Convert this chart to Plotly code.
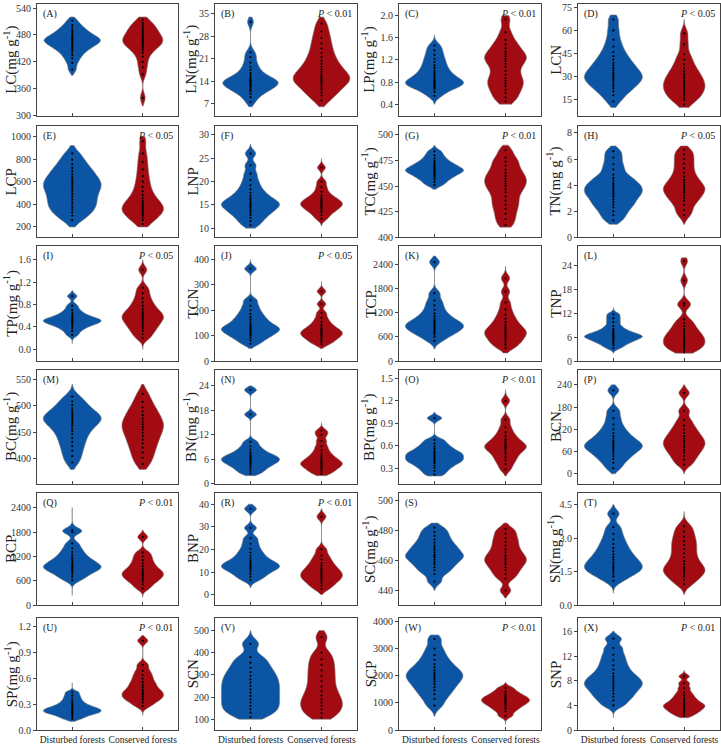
import plotly.graph_objects as go

# ---------------- data ----------------
categories = ["Disturbed forests", "Conserved forests"]
variables = ["LC", "LN", "LP", "LCN", "LCP", "LNP", "TC", "TN", "TP", "TCN", "TCP", "TNP",
             "BC", "BN", "BP", "BCN", "BCP", "BNP", "SC", "SN", "SP", "SCN", "SCP", "SNP"]
letters = ["A", "B", "C", "D", "E", "F", "G", "H", "I", "J", "K", "L",
           "M", "N", "O", "P", "Q", "R", "S", "T", "U", "V", "W", "X"]
with_unit = ["LC", "LN", "LP", "TC", "TN", "TP", "BC", "BN", "BP", "SC", "SN", "SP"]
p_values = [None, "0.01", "0.01", "0.05", "0.05", None, "0.01", "0.05", "0.05", "0.05", None, None,
            None, None, "0.01", None, "0.01", "0.01", None, None, "0.01", None, "0.01", "0.01"]

LC_dist = [403, 418, 428, 435, 441, 446, 450, 453, 456, 459, 462, 464, 466, 468, 470, 472, 474, 477, 480, 483, 487, 491, 496, 502, 512]
LC_cons = [340, 392, 408, 420, 432, 440, 446, 451, 455, 458, 461, 464, 466, 469, 472, 475, 478, 481, 485, 489, 493, 497, 502, 507, 514]
LN_dist = [7.5, 9, 10, 10.8, 11.2, 11.5, 12, 12.5, 12.8, 13, 13.3, 13.7, 14, 14.2, 14.4, 14.8, 15.3, 15.9, 16.6, 17.5, 18.5, 19.8, 21.5, 23, 32.5]
LN_cons = [8, 9.5, 10.5, 11.5, 12.3, 13, 13.6, 14.2, 14.7, 15.2, 15.7, 16.3, 17, 17.7, 18.5, 19.4, 20.4, 21.5, 22.8, 24.2, 25.8, 27.5, 29.5, 32]
LP_dist = [0.55, 0.62, 0.67, 0.7, 0.73, 0.75, 0.77, 0.79, 0.81, 0.83, 0.86, 0.89, 0.92, 0.96, 1.0, 1.05, 1.1, 1.16, 1.22, 1.29, 1.37, 1.46]
LP_cons = [0.45, 0.52, 0.6, 0.66, 0.72, 0.77, 0.82, 0.87, 0.93, 1.0, 1.07, 1.13, 1.18, 1.22, 1.26, 1.3, 1.35, 1.41, 1.48, 1.56, 1.7, 1.93]
LCN_dist = [14, 18, 20.5, 22.5, 24, 25.5, 27, 28.2, 29.3, 30.4, 31.5, 32.8, 34.2, 35.7, 37.3, 39, 41, 43.3, 46, 49.5, 54, 60, 67]
LCN_cons = [12, 15, 16.5, 18, 19.5, 21, 22.3, 23.5, 24.7, 26, 27.3, 28.7, 30.2, 31.8, 33.5, 35.5, 38, 41, 44.5, 51, 58]
LCP_dist = [260, 300, 330, 355, 378, 400, 422, 445, 468, 490, 512, 533, 552, 570, 587, 605, 625, 647, 670, 695, 722, 755, 795, 850]
LCP_cons = [225, 260, 285, 305, 322, 338, 352, 366, 380, 395, 412, 432, 455, 482, 515, 555, 600, 650, 710, 775, 850, 960]
LNP_dist = [10.6, 11.5, 12.2, 12.8, 13.3, 13.7, 14.1, 14.5, 14.8, 15.1, 15.4, 15.7, 16.1, 16.5, 17, 17.6, 18.3, 19.2, 20.3, 21.7, 23.5, 26]
LNP_cons = [12, 12.8, 13.4, 13.8, 14.2, 14.5, 14.8, 15.1, 15.3, 15.6, 15.9, 16.2, 16.6, 17.1, 17.8, 18.8, 20, 23]
TC_dist = [451, 454, 456.5, 458.5, 460, 461.5, 463, 464, 465, 466, 467, 468.2, 469.5, 471, 472.5, 474.5, 477, 480, 484]
TC_cons = [412, 418, 423, 428, 432, 436, 440, 444, 447, 450, 452.5, 455, 457.5, 460, 463, 466, 470, 474, 478, 485]
TN_dist = [1.3, 1.7, 2.0, 2.3, 2.5, 2.7, 2.9, 3.1, 3.25, 3.4, 3.55, 3.7, 3.85, 4.0, 4.15, 4.35, 4.55, 4.8, 5.2, 5.6, 6.1, 6.6]
TN_cons = [1.7, 2.1, 2.5, 2.8, 3.0, 3.2, 3.4, 3.55, 3.7, 3.85, 4.0, 4.2, 4.4, 4.65, 4.95, 5.3, 5.65, 6.0, 6.35, 6.7]
TP_dist = [0.26, 0.33, 0.38, 0.41, 0.44, 0.46, 0.48, 0.495, 0.51, 0.525, 0.54, 0.56, 0.58, 0.61, 0.65, 0.7, 0.78, 0.95]
TP_cons = [0.2, 0.27, 0.33, 0.38, 0.42, 0.46, 0.5, 0.53, 0.56, 0.59, 0.62, 0.65, 0.69, 0.73, 0.78, 0.84, 0.91, 1.0, 1.1, 1.42]
TCN_dist = [68, 82, 92, 100, 107, 113, 119, 124, 129, 134, 140, 147, 155, 164, 174, 186, 200, 218, 240, 364]
TCN_cons = [66, 76, 84, 91, 97, 102, 107, 112, 117, 122, 128, 135, 144, 155, 170, 190, 225, 275]
TCP_dist = [500, 600, 660, 710, 750, 790, 825, 860, 890, 925, 960, 1000, 1050, 1110, 1180, 1270, 1380, 1500, 1680, 2450]
TCP_cons = [320, 400, 460, 520, 570, 620, 665, 705, 745, 790, 840, 900, 970, 1050, 1150, 1280, 1450, 1720, 2050]
TNP_dist = [3.3, 4.0, 4.5, 4.9, 5.2, 5.5, 5.8, 6.0, 6.2, 6.4, 6.65, 6.9, 7.2, 7.6, 8.1, 8.8, 9.8, 10.8, 11.8]
TNP_cons = [2.2, 2.8, 3.3, 3.7, 4.1, 4.5, 4.9, 5.3, 5.7, 6.1, 6.5, 7.0, 7.5, 8.1, 8.8, 9.6, 10.5, 14, 14.6, 20.3, 25.2]
BC_dist = [393, 405, 415, 424, 432, 439, 446, 452, 457, 462, 466, 470, 473, 476, 479, 482, 486, 490, 495, 501, 508, 517]
BC_cons = [390, 402, 412, 421, 429, 436, 443, 449, 455, 460, 465, 470, 476, 482, 489, 497, 507, 522]
BN_dist = [2.5, 3.2, 3.8, 4.3, 4.7, 5.1, 5.4, 5.7, 6.0, 6.3, 6.6, 6.9, 7.3, 7.8, 8.4, 9.2, 10.3, 17, 23]
BN_cons = [2.4, 3.0, 3.5, 3.9, 4.3, 4.6, 4.9, 5.2, 5.5, 5.9, 6.3, 6.8, 7.4, 8.2, 9.2, 10.5, 12.0, 13.0]
BP_dist = [0.22, 0.27, 0.31, 0.34, 0.37, 0.39, 0.41, 0.43, 0.45, 0.47, 0.49, 0.51, 0.53, 0.56, 0.59, 0.63, 0.68, 0.97]
BP_cons = [0.29, 0.36, 0.41, 0.45, 0.49, 0.52, 0.55, 0.57, 0.59, 0.61, 0.63, 0.66, 0.69, 0.73, 0.78, 0.85, 0.95, 1.2]
BCN_dist = [15, 30, 40, 48, 55, 61, 66, 71, 75, 79, 84, 89, 95, 102, 110, 120, 133, 150, 170, 225]
BCN_cons = [25, 38, 48, 57, 64, 71, 77, 83, 89, 95, 102, 110, 119, 130, 145, 170, 218]
BCP_dist = [620, 700, 760, 810, 850, 885, 915, 945, 975, 1005, 1040, 1080, 1125, 1175, 1240, 1310, 1400, 1520, 1800, 1850]
BCP_cons = [420, 520, 590, 640, 690, 730, 770, 810, 850, 900, 960, 1030, 1110, 1200, 1300, 1680]
BNP_dist = [6.5, 8, 9.2, 10.2, 11, 11.7, 12.3, 12.9, 13.5, 14.2, 15, 16, 17.2, 18.6, 20.3, 22.5, 25, 29.5, 38]
BNP_cons = [2.5, 4, 5.2, 6.2, 7, 7.8, 8.5, 9.2, 10, 10.8, 11.7, 12.8, 14, 15.5, 17.3, 20, 34.5]
SC_dist = [446, 451, 453.5, 455.5, 457.5, 459, 460.5, 462, 463, 464, 465.5, 467, 468.5, 470, 472, 474, 476.5, 479, 482]
SC_cons = [440, 448, 451, 453.5, 455.5, 457.5, 459, 460.5, 462, 463.5, 465.5, 467.5, 470, 472.5, 475, 478, 481]
SN_dist = [1.1, 1.3, 1.42, 1.52, 1.61, 1.69, 1.77, 1.86, 1.95, 2.05, 2.16, 2.28, 2.42, 2.57, 2.75, 2.95, 3.2, 3.5, 4.1]
SN_cons = [0.95, 1.15, 1.3, 1.42, 1.52, 1.62, 1.72, 1.84, 1.98, 2.15, 2.33, 2.52, 2.7, 2.88, 3.08, 3.3, 3.55]
SP_dist = [0.13, 0.155, 0.175, 0.19, 0.2, 0.21, 0.22, 0.23, 0.24, 0.25, 0.26, 0.275, 0.29, 0.31, 0.335, 0.365, 0.4, 0.44]
SP_cons = [0.28, 0.32, 0.35, 0.37, 0.39, 0.41, 0.43, 0.45, 0.47, 0.5, 0.53, 0.56, 0.6, 0.64, 0.69, 0.76, 1.04]
SCN_dist = [110, 130, 145, 160, 175, 190, 205, 220, 235, 250, 265, 280, 296, 313, 332, 355, 380, 440]
SCN_cons = [108, 128, 145, 160, 175, 190, 207, 226, 248, 272, 296, 320, 345, 370, 400, 470]
SCP_dist = [900, 1150, 1320, 1460, 1580, 1690, 1790, 1880, 1960, 2040, 2120, 2210, 2310, 2430, 2580, 2760, 3000, 3350]
SCP_cons = [520, 680, 790, 870, 940, 1000, 1050, 1100, 1150, 1200, 1260, 1330, 1420, 1550]
SNP_dist = [4, 4.8, 5.4, 5.9, 6.4, 6.8, 7.2, 7.55, 7.9, 8.3, 8.7, 9.2, 9.8, 10.5, 11.3, 12.2, 13.3, 14.8]
SNP_cons = [2.3, 2.7, 3.0, 3.25, 3.5, 3.7, 3.9, 4.1, 4.3, 4.55, 4.85, 5.2, 5.6, 6.1, 6.8, 7.6, 8.7]

# KDE span (value range of each violin outline)
LC_span = [[390, 520], [322, 520]]
LN_span = [[6, 34], [6, 34]]
LP_span = [[0.4, 1.65], [0.4, 2.0]]
LCN_span = [[10, 70], [10, 67]]
LCP_span = [[200, 920], [200, 1000]]
LNP_span = [[10, 28], [10.5, 25]]
TC_span = [[447, 490], [410, 490]]
TN_span = [[1, 7], [1, 7]]
TP_span = [[0.1, 1.05], [0.0, 1.6]]
TCN_span = [[50, 400], [50, 315]]
TCP_span = [[300, 2600], [200, 2350]]
TNP_span = [[2, 13.5], [2, 26]]
BC_span = [[380, 540], [380, 540]]
BN_span = [[2, 24], [2, 15]]
BP_span = [[0.2, 1.05], [0.2, 1.35]]
BCN_span = [[0, 240], [0, 240]]
BCP_span = [[250, 2400], [200, 1850]]
BNP_span = [[3, 40], [0, 38]]
SC_span = [[440, 485], [435, 485]]
SN_span = [[0.55, 4.5], [0.5, 4.2]]
SP_span = [[0.1, 0.55], [0.17, 1.1]]
SCN_span = [[100, 500], [100, 500]]
SCP_span = [[500, 3500], [200, 1750]]
SNP_span = [[2, 16], [2, 9.7]]

# y-axis ticks and ranges
LC_ticks = ["300", "360", "420", "480", "540"]; LC_range = [300, 549]
LN_ticks = ["7", "14", "21", "28", "35"]; LN_range = [3.2, 38.1]
LP_ticks = ["0.4", "0.8", "1.2", "1.6", "2.0"]; LP_range = [0.19, 2.21]
LCN_ticks = ["15", "30", "45", "60", "75"]; LCN_range = [4.7, 77.1]
LCP_ticks = ["200", "400", "600", "800", "1000"]; LCP_range = [107, 1096]
LNP_ticks = ["10", "15", "20", "25", "30"]; LNP_range = [8, 32]
TC_ticks = ["400", "425", "450", "475", "500"]; TC_range = [400, 509]
TN_ticks = ["0", "2", "4", "6", "8"]; TN_range = [0, 8.55]
TP_ticks = ["0.0", "0.4", "0.8", "1.2", "1.6"]; TP_range = [-0.21, 1.84]
TCN_ticks = ["0", "100", "200", "300", "400"]; TCN_range = [0, 452]
TCP_ticks = ["0", "600", "1200", "1800", "2400"]; TCP_range = [0, 2840]
TNP_ticks = ["0", "6", "12", "18", "24"]; TNP_range = [0, 28.9]
BC_ticks = ["400", "450", "500", "550"]; BC_range = [353, 567]
BN_ticks = ["0", "6", "12", "18", "24"]; BN_range = [0, 27.9]
BP_ticks = ["0.3", "0.6", "0.9", "1.2", "1.5"]; BP_range = [0.097, 1.61]
BCN_ticks = ["0", "60", "120", "180", "240"]; BCN_range = [-27, 280]
BCP_ticks = ["0", "600", "1200", "1800", "2400"]; BCP_range = [0, 2764]
BNP_ticks = ["0", "10", "20", "30", "40"]; BNP_range = [-4.8, 45.1]
SC_ticks = ["440", "460", "480", "500"]; SC_range = [430, 505.3]
SN_ticks = ["0.0", "1.5", "3.0", "4.5"]; SN_range = [0, 5.04]
SP_ticks = ["0.0", "0.3", "0.6", "0.9", "1.2"]; SP_range = [0, 1.3]
SCN_ticks = ["100", "200", "300", "400", "500"]; SCN_range = [51, 555]
SCP_ticks = ["0", "1000", "2000", "3000", "4000"]; SCP_range = [0, 4110]
SNP_ticks = ["0", "4", "8", "12", "16"]; SNP_range = [0, 18.1]

# ---------------- style ----------------
G = globals()
W, H = 721, 747
col_px = [(37, 178), (215, 357), (399, 541), (578, 719.5)]
row_px = [(2, 115), (125, 238), (247, 363), (372, 487), (496, 610), (623, 736)]
title_x = [11, 193, 371, 556]
title_shift = [0, 2, 2, 2]
fills = ["#0C55A5", "#A30B13"]
FONT = "Liberation Serif"
AXC = "#444444"

bw = {"LC": [7.5, 10], "LN": [1.3, 1.7], "LP": [0.065, 0.09], "LCN": [3.3, 3.3], "LCP": [48, 48],
      "LNP": [0.75, 0.6], "TC": [2.4, 4.2], "TN": [0.3, 0.34], "TP": [0.042, 0.065],
      "TCN": [11, 10], "TCP": [85, 90], "TNP": [0.5, 1.0], "BC": [9.5, 11], "BN": [0.6, 0.6],
      "BP": [0.032, 0.045], "BCN": [10, 10], "BCP": [75, 70], "BNP": [1.3, 1.4], "SC": [2.4, 2.5],
      "SN": [0.18, 0.2], "SP": [0.02, 0.033], "SCN": [22, 24], "SCP": [160, 80], "SNP": [0.55, 0.33]}
vwidth = {v: [0.82, 0.59] for v in variables}
vwidth["LN"] = [0.78, 0.8]
vwidth["SCP"] = [0.8, 0.68]
vwidth["LC"] = [0.8, 0.57]

fig = go.Figure()
annotations = []
layout = {}
for i, var in enumerate(variables):
    r, c = divmod(i, 4)
    n = i + 1
    xa = "x" if n == 1 else f"x{n}"
    ya = "y" if n == 1 else f"y{n}"
    groups = [G[var + "_dist"], G[var + "_cons"]]
    spans = G[var + "_span"]
    for j, cat in enumerate(categories):
        vals = groups[j]
        fig.add_trace(go.Violin(
            x=[cat] * len(vals), y=vals, xaxis=xa, yaxis=ya,
            width=vwidth[var][j], bandwidth=bw[var][j],
            spanmode="manual", span=spans[j],
            fillcolor=fills[j], opacity=1,
            line=dict(color="#7a7a7a", width=0.6),
            points="all", pointpos=0, jitter=0,
            marker=dict(color="black", size=2.2, line=dict(width=0)),
            showlegend=False, hoverinfo="y",
        ))
    x0, x1 = col_px[c]
    y0, y1 = row_px[r]
    ticks = G[var + "_ticks"]
    layout["xaxis" if n == 1 else f"xaxis{n}"] = dict(
        domain=[x0 / W, x1 / W], anchor=ya, type="category",
        categoryorder="array", categoryarray=categories, range=[-0.5, 1.5],
        showline=True, mirror=True, linecolor=AXC, linewidth=1,
        ticks="inside", ticklen=3, tickcolor=AXC, showgrid=False, zeroline=False,
        showticklabels=(r == 5), tickfont=dict(family=FONT, size=9.5, color="#222"),
    )
    layout["yaxis" if n == 1 else f"yaxis{n}"] = dict(
        domain=[1 - y1 / H, 1 - y0 / H], anchor=xa, range=G[var + "_range"],
        tickmode="array", tickvals=[float(t) for t in ticks], ticktext=ticks,
        showline=True, mirror=True, linecolor=AXC, linewidth=1,
        ticks="outside", ticklen=3, tickcolor=AXC, showgrid=False, zeroline=False,
        tickfont=dict(family=FONT, size=10, color="#333"),
    )
    has_unit = var in with_unit
    title = var + ("(mg g<sup>-1</sup>)" if has_unit else "")
    tx = title_x[c] - (title_shift[c] if has_unit else 0)
    annotations.append(dict(
        text=title, xref="paper", yref="paper", x=tx / W, y=1 - (y0 + y1) / 2 / H,
        textangle=-90, showarrow=False, xanchor="center", yanchor="middle",
        font=dict(family=FONT, size=15, color="#222"),
    ))
    annotations.append(dict(
        text=f"({letters[i]})", xref="paper", yref="paper", x=(x0 + 4) / W, y=1 - (y0 + 2) / H,
        showarrow=False, xanchor="left", yanchor="top",
        font=dict(family=FONT, size=10, color="#222"),
    ))
    if p_values[i]:
        annotations.append(dict(
            text=f"<i>P</i> &lt; {p_values[i]}", xref="paper", yref="paper",
            x=(x1 - 3) / W, y=1 - (y0 + 2) / H, showarrow=False,
            xanchor="right", yanchor="top",
            font=dict(family=FONT, size=10, color="#222"),
        ))

fig.update_layout(
    width=W, height=H, autosize=False,
    margin=dict(l=0, r=0, t=0, b=0),
    paper_bgcolor="white", plot_bgcolor="white",
    font=dict(family=FONT, color="#222"),
    violinmode="overlay",
    annotations=annotations,
    **layout,
)
fig.write_html("out.html")
